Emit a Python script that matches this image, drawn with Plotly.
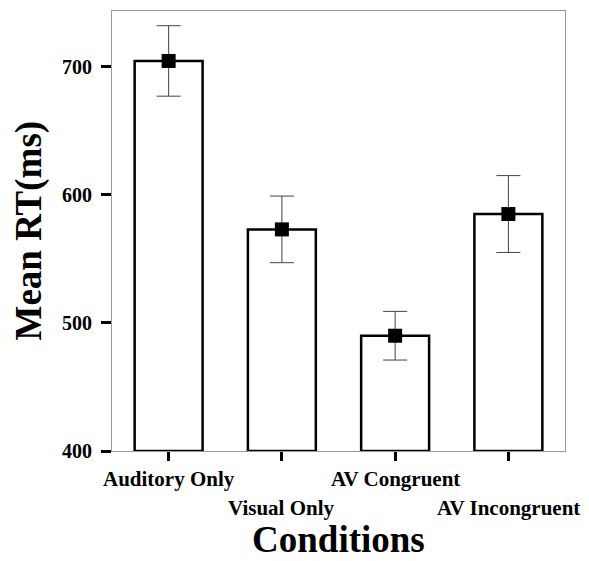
import plotly.graph_objects as go

categories = ["Auditory Only", "Visual Only", "AV Congruent", "AV Incongruent"]
mean_rt = [704.5, 573, 490, 585]
err = [27.5, 26, 19, 30]
y_ticks = [400, 500, 600, 700]

xs = list(range(len(categories)))
FONT = "Liberation Serif"

fig = go.Figure()
fig.add_trace(go.Bar(
    x=xs, y=[v - 400 for v in mean_rt], base=400, width=0.6,
    marker=dict(color="white", line=dict(color="black", width=2.5)),
    hoverinfo="skip", showlegend=False,
))
fig.add_trace(go.Scatter(
    x=xs, y=mean_rt, mode="markers",
    marker=dict(symbol="square", size=14, color="black"),
    error_y=dict(type="data", array=err, color="#444444", thickness=1, width=12),
    showlegend=False,
))

annotations = []
for i, c in enumerate(categories):
    annotations.append(dict(
        x=i, xref="x", y=0, yref="paper", text="<b>%s</b>" % c, showarrow=False,
        yanchor="middle", yshift=-28 if i % 2 == 0 else -56.5,
        font=dict(family=FONT, size=21, color="black"),
    ))
annotations.append(dict(
    x=0.5, xref="paper", y=0, yref="paper", text="<b>Conditions</b>", showarrow=False,
    yanchor="bottom", yshift=-110, borderpad=0,
    font=dict(family=FONT, size=37, color="black"),
))
annotations.append(dict(
    x=0, xref="paper", y=0.5, yref="paper", text="<b>Mean RT(ms)</b>", showarrow=False,
    xanchor="center", xshift=-83.5, textangle=-90,
    font=dict(family=FONT, size=37, color="black"),
))

fig.update_layout(
    width=589, height=561,
    margin=dict(l=112, r=24, t=11, b=110),
    paper_bgcolor="white", plot_bgcolor="white",
    annotations=annotations,
    xaxis=dict(
        range=[-0.5, 3.5], tickvals=xs, ticktext=["" for _ in xs],
        ticks="outside", ticklen=9, tickwidth=3, tickcolor="black",
        showline=True, linecolor="#999999", linewidth=1, mirror=True,
        showgrid=False, zeroline=False,
    ),
    yaxis=dict(
        range=[400, 743.5], tickvals=y_ticks,
        ticks="outside", ticklen=10, tickwidth=3, tickcolor="black",
        ticklabelstandoff=5,
        showline=True, linecolor="#999999", linewidth=1, mirror=True,
        showgrid=False, zeroline=False,
        tickfont=dict(family=FONT, size=20, color="black", weight="bold"),
    ),
)

fig.write_html("out.html", config={"displayModeBar": False},
               post_script="document.body.style.margin='0px';")
